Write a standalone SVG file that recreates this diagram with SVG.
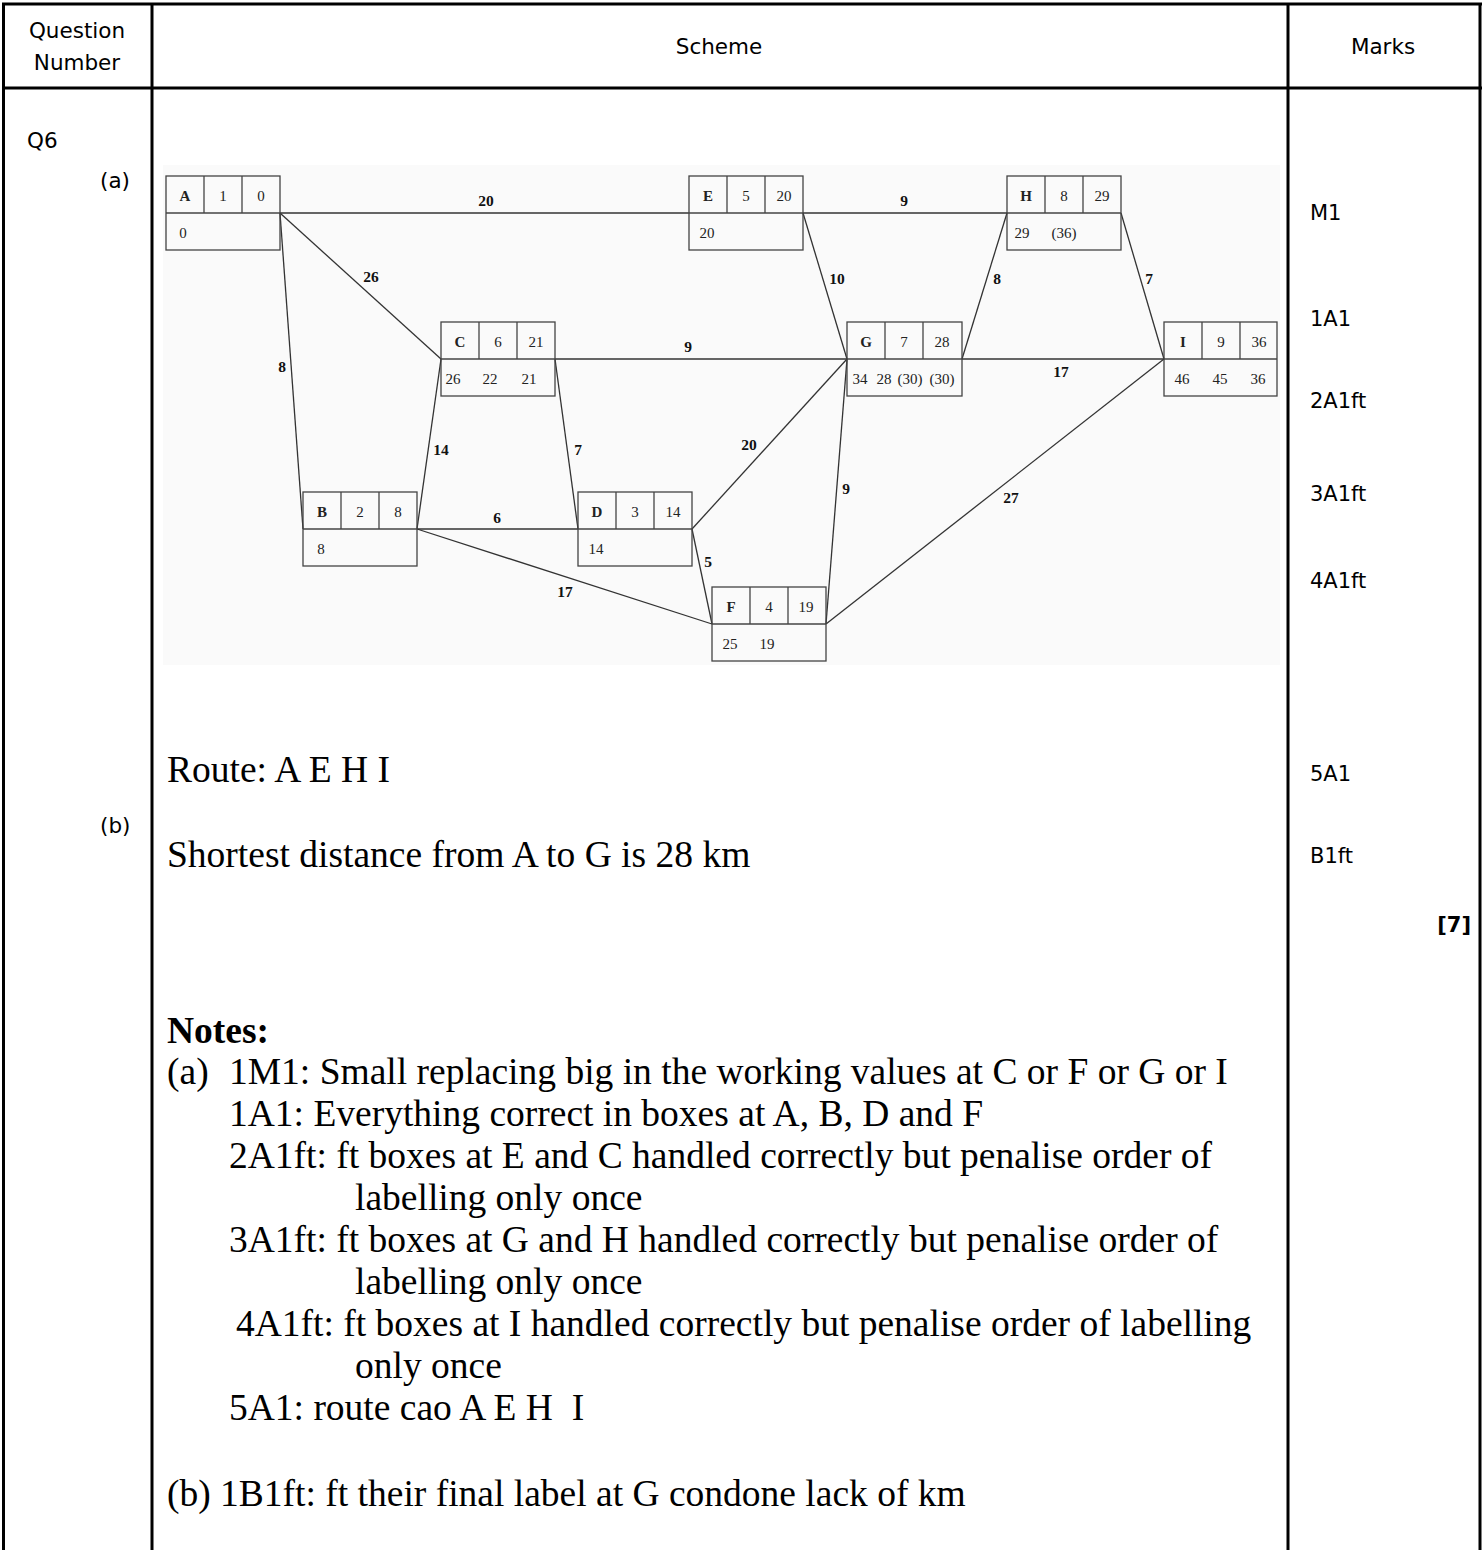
<svg xmlns="http://www.w3.org/2000/svg" width="1484" height="1550" viewBox="0 0 1484 1550">
<style>
.tb{stroke:#000;stroke-width:3;fill:none}
.hd{font-family:"DejaVu Sans",Verdana,sans-serif;font-size:21.5px;fill:#000}
.mk{font-family:"DejaVu Sans",Verdana,sans-serif;font-size:21px;fill:#000}
.box{fill:none;stroke:#444;stroke-width:1.3}
.bt{font-family:"Liberation Serif","Times New Roman",serif;font-size:15px;fill:#222;text-anchor:middle}
.bl{font-weight:bold}
.edge{stroke:#333;stroke-width:1.3;fill:none}
.el{font-family:"Liberation Serif","Times New Roman",serif;font-size:15.5px;font-weight:bold;fill:#111;text-anchor:middle}
.big{font-family:"Liberation Serif","Times New Roman",serif;font-size:37.5px;fill:#000}
.nt{font-family:"Liberation Serif","Times New Roman",serif;font-size:37.5px;fill:#000}
</style>
<rect x="0" y="0" width="1484" height="1550" fill="#fff"/>
<g id="table">
<line class="tb" x1="2" y1="4" x2="1482" y2="4"/>
<line class="tb" x1="2" y1="88" x2="1482" y2="88"/>
<line class="tb" x1="3.5" y1="3" x2="3.5" y2="1550"/>
<line class="tb" x1="152" y1="3" x2="152" y2="1550"/>
<line class="tb" x1="1288" y1="3" x2="1288" y2="1550"/>
<line class="tb" x1="1480" y1="3" x2="1480" y2="1550"/>
<text class="hd" x="77" y="38" text-anchor="middle">Question</text>
<text class="hd" x="77" y="70" text-anchor="middle">Number</text>
<text class="hd" x="719" y="54" text-anchor="middle">Scheme</text>
<text class="hd" x="1383" y="54" text-anchor="middle">Marks</text>
<text class="hd" x="27" y="148">Q6</text>
<text class="hd" x="100" y="188">(a)</text>
<text class="hd" x="100" y="833">(b)</text>
</g>
<g id="marks">
<text class="mk" x="1310" y="220">M1</text>
<text class="mk" x="1310" y="326">1A1</text>
<text class="mk" x="1310" y="408">2A1ft</text>
<text class="mk" x="1310" y="501">3A1ft</text>
<text class="mk" x="1310" y="588">4A1ft</text>
<text class="mk" x="1310" y="781">5A1</text>
<text class="mk" x="1310" y="863">B1ft</text>
<text class="mk" x="1471" y="932" font-weight="bold" text-anchor="end">[7]</text>
</g>
<rect x="163" y="165" width="1117" height="500" fill="#fafafa"/>
<g id="connectors">
<line class="edge" x1="280" y1="213" x2="689" y2="213"/>
<line class="edge" x1="803" y1="213" x2="1007" y2="213"/>
<line class="edge" x1="280" y1="213" x2="441" y2="359"/>
<line class="edge" x1="280" y1="213" x2="303" y2="529"/>
<line class="edge" x1="441" y1="359" x2="417" y2="529"/>
<line class="edge" x1="555" y1="359" x2="847" y2="359"/>
<line class="edge" x1="555" y1="359" x2="578" y2="529"/>
<line class="edge" x1="417" y1="529" x2="578" y2="529"/>
<line class="edge" x1="417" y1="529" x2="712" y2="624"/>
<line class="edge" x1="692" y1="529" x2="847" y2="359" stroke="#555" stroke-width="1"/>
<line class="edge" x1="692" y1="529" x2="712" y2="624"/>
<line class="edge" x1="803" y1="213" x2="847" y2="359"/>
<line class="edge" x1="962" y1="359" x2="1007" y2="213"/>
<line class="edge" x1="1121" y1="213" x2="1164" y2="359"/>
<line class="edge" x1="962" y1="359" x2="1164" y2="359"/>
<line class="edge" x1="826" y1="624" x2="847" y2="359"/>
<line class="edge" x1="826" y1="624" x2="1164" y2="359"/>
<text class="el" x="486" y="206">20</text>
<text class="el" x="904" y="206">9</text>
<text class="el" x="371" y="282">26</text>
<text class="el" x="282" y="372">8</text>
<text class="el" x="837" y="284">10</text>
<text class="el" x="997" y="284">8</text>
<text class="el" x="1149" y="284">7</text>
<text class="el" x="688" y="352">9</text>
<text class="el" x="1061" y="377">17</text>
<text class="el" x="441" y="455">14</text>
<text class="el" x="578" y="455">7</text>
<text class="el" x="749" y="450">20</text>
<text class="el" x="497" y="523">6</text>
<text class="el" x="565" y="597">17</text>
<text class="el" x="708" y="567">5</text>
<text class="el" x="846" y="494">9</text>
<text class="el" x="1011" y="503">27</text>
</g>
<g id="node-A" transform="translate(166,176)">
<rect class="box" x="0" y="0" width="114" height="74"/><line class="box" x1="0" y1="37" x2="114" y2="37"/><line class="box" x1="38" y1="0" x2="38" y2="37"/><line class="box" x1="76" y1="0" x2="76" y2="37"/>
<text class="bt bl" x="19" y="25">A</text><text class="bt" x="57" y="25">1</text><text class="bt" x="95" y="25">0</text>
<text class="bt" x="17" y="62">0</text>
</g>
<g id="node-E" transform="translate(689,176)">
<rect class="box" x="0" y="0" width="114" height="74"/><line class="box" x1="0" y1="37" x2="114" y2="37"/><line class="box" x1="38" y1="0" x2="38" y2="37"/><line class="box" x1="76" y1="0" x2="76" y2="37"/>
<text class="bt bl" x="19" y="25">E</text><text class="bt" x="57" y="25">5</text><text class="bt" x="95" y="25">20</text>
<text class="bt" x="18" y="62">20</text>
</g>
<g id="node-H" transform="translate(1007,176)">
<rect class="box" x="0" y="0" width="114" height="74"/><line class="box" x1="0" y1="37" x2="114" y2="37"/><line class="box" x1="38" y1="0" x2="38" y2="37"/><line class="box" x1="76" y1="0" x2="76" y2="37"/>
<text class="bt bl" x="19" y="25">H</text><text class="bt" x="57" y="25">8</text><text class="bt" x="95" y="25">29</text>
<text class="bt" x="15" y="62">29</text><text class="bt" x="57" y="62">(36)</text>
</g>
<g id="node-C" transform="translate(441,322)">
<rect class="box" x="0" y="0" width="114" height="74"/><line class="box" x1="0" y1="37" x2="114" y2="37"/><line class="box" x1="38" y1="0" x2="38" y2="37"/><line class="box" x1="76" y1="0" x2="76" y2="37"/>
<text class="bt bl" x="19" y="25">C</text><text class="bt" x="57" y="25">6</text><text class="bt" x="95" y="25">21</text>
<text class="bt" x="12" y="62">26</text><text class="bt" x="49" y="62">22</text><text class="bt" x="88" y="62">21</text>
</g>
<g id="node-G" transform="translate(847,322)">
<rect class="box" x="0" y="0" width="115" height="74"/><line class="box" x1="0" y1="37" x2="115" y2="37"/><line class="box" x1="38" y1="0" x2="38" y2="37"/><line class="box" x1="76" y1="0" x2="76" y2="37"/>
<text class="bt bl" x="19" y="25">G</text><text class="bt" x="57" y="25">7</text><text class="bt" x="95" y="25">28</text>
<text class="bt" x="13" y="62">34</text><text class="bt" x="37" y="62">28</text><text class="bt" x="63" y="62">(30)</text><text class="bt" x="95" y="62">(30)</text>
</g>
<g id="node-I" transform="translate(1164,322)">
<rect class="box" x="0" y="0" width="113" height="74"/><line class="box" x1="0" y1="37" x2="113" y2="37"/><line class="box" x1="38" y1="0" x2="38" y2="37"/><line class="box" x1="76" y1="0" x2="76" y2="37"/>
<text class="bt bl" x="19" y="25">I</text><text class="bt" x="57" y="25">9</text><text class="bt" x="95" y="25">36</text>
<text class="bt" x="18" y="62">46</text><text class="bt" x="56" y="62">45</text><text class="bt" x="94" y="62">36</text>
</g>
<g id="node-B" transform="translate(303,492)">
<rect class="box" x="0" y="0" width="114" height="74"/><line class="box" x1="0" y1="37" x2="114" y2="37"/><line class="box" x1="38" y1="0" x2="38" y2="37"/><line class="box" x1="76" y1="0" x2="76" y2="37"/>
<text class="bt bl" x="19" y="25">B</text><text class="bt" x="57" y="25">2</text><text class="bt" x="95" y="25">8</text>
<text class="bt" x="18" y="62">8</text>
</g>
<g id="node-D" transform="translate(578,492)">
<rect class="box" x="0" y="0" width="114" height="74"/><line class="box" x1="0" y1="37" x2="114" y2="37"/><line class="box" x1="38" y1="0" x2="38" y2="37"/><line class="box" x1="76" y1="0" x2="76" y2="37"/>
<text class="bt bl" x="19" y="25">D</text><text class="bt" x="57" y="25">3</text><text class="bt" x="95" y="25">14</text>
<text class="bt" x="18" y="62">14</text>
</g>
<g id="node-F" transform="translate(712,587)">
<rect class="box" x="0" y="0" width="114" height="74"/><line class="box" x1="0" y1="37" x2="114" y2="37"/><line class="box" x1="38" y1="0" x2="38" y2="37"/><line class="box" x1="76" y1="0" x2="76" y2="37"/>
<text class="bt bl" x="19" y="25">F</text><text class="bt" x="57" y="25">4</text><text class="bt" x="94" y="25">19</text>
<text class="bt" x="18" y="62">25</text><text class="bt" x="55" y="62">19</text>
</g>
<g id="answers">
<text class="big" x="167" y="782">Route: A E H I</text>
<text class="big" x="167" y="867">Shortest distance from A to G is 28 km</text>
</g>
<g id="notes">
<text class="nt" x="167" y="1043" font-weight="bold">Notes:</text>
<text class="nt" x="167" y="1084">(a)</text>
<text class="nt" x="229" y="1084">1M1: Small replacing big in the working values at C or F or G or I</text>
<text class="nt" x="229" y="1126">1A1: Everything correct in boxes at A, B, D and F</text>
<text class="nt" x="229" y="1168">2A1ft: ft boxes at E and C handled correctly but penalise order of</text>
<text class="nt" x="355" y="1210">labelling only once</text>
<text class="nt" x="229" y="1252">3A1ft: ft boxes at G and H handled correctly but penalise order of</text>
<text class="nt" x="355" y="1294">labelling only once</text>
<text class="nt" x="236" y="1336">4A1ft: ft boxes at I handled correctly but penalise order of labelling</text>
<text class="nt" x="355" y="1378">only once</text>
<text class="nt" x="229" y="1420">5A1: route cao A E H&#160; I</text>
<text class="nt" x="167" y="1506">(b) 1B1ft: ft their final label at G condone lack of km</text>
</g>
</svg>
